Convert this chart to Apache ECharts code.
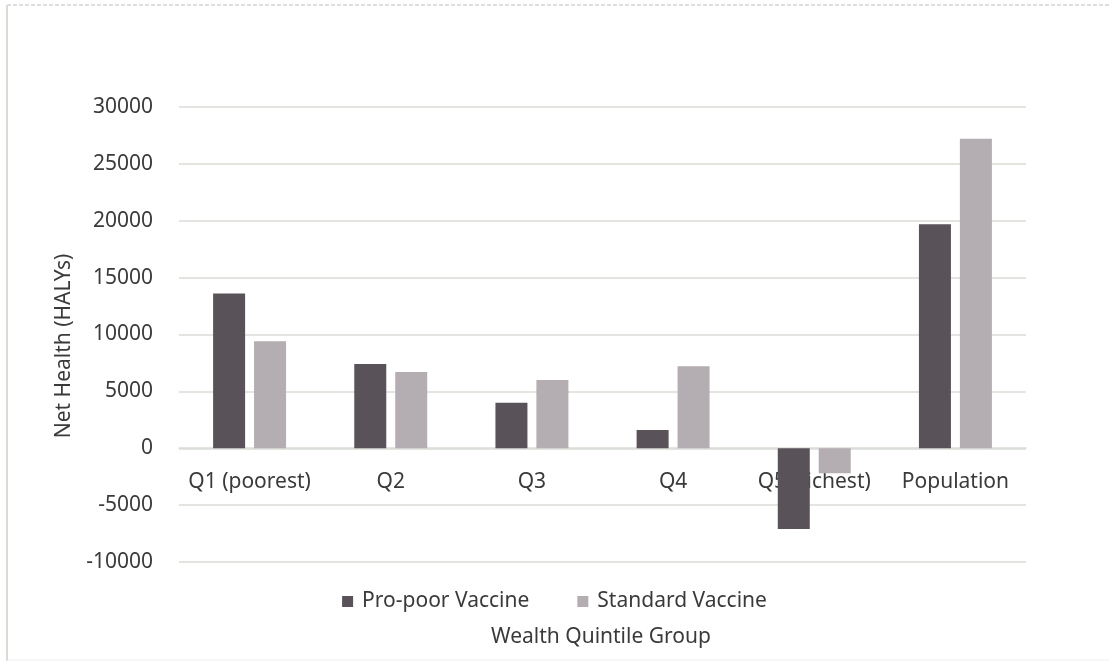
<!DOCTYPE html>
<html>
<head>
<meta charset="utf-8">
<script src="https://cdn.jsdelivr.net/npm/echarts@6/dist/echarts.min.js"></script>
<style>
html,body{margin:0;padding:0;background:#fff;}
#chart{width:1109px;height:661px;}
</style>
</head>
<body>
<div id="chart"></div>
<script>
const categories = ['Q1 (poorest)', 'Q2', 'Q3', 'Q4', 'Q5 (richest)', 'Population'];
const proPoor = [13600, 7400, 4000, 1600, -7100, 19700];
const standard = [9400, 6700, 6000, 7200, -2200, 27200];
const seriesNames = ['Pro-poor Vaccine', 'Standard Vaccine'];
const yTitle = 'Net Health (HALYs)';
const xTitle = 'Wealth Quintile Group';

const FONT = 'Noto Sans';
const FS = 21;
const TXT = '#3a3a3a';
const GRID = '#d9ddd6';

const chart = echarts.init(document.getElementById('chart'));
chart.setOption({
  backgroundColor: '#ffffff',
  animation: false,
  grid: { left: 179, right: 83, top: 107, bottom: 99, containLabel: false },
  legend: {
    data: seriesNames,
    top: 586,
    left: 'center',
    itemWidth: 11,
    itemHeight: 11,
    itemGap: 48,
    icon: 'rect',
    textStyle: { fontFamily: FONT, fontSize: FS, color: TXT, padding: [0, 0, 0, 4] }
  },
  xAxis: {
    type: 'category',
    data: categories,
    offset: -114,
    axisLine: { onZero: false, lineStyle: { color: GRID, width: 1.5 } },
    axisTick: { show: false },
    axisLabel: { margin: 24, fontFamily: FONT, fontSize: FS, color: TXT, interval: 0 },
    z: 0
  },
  yAxis: {
    type: 'value',
    min: -10000,
    max: 30000,
    interval: 5000,
    axisLine: { show: false },
    axisTick: { show: false },
    axisLabel: { margin: 26, fontFamily: FONT, fontSize: FS, color: TXT, formatter: v => String(v) },
    splitLine: { lineStyle: { color: GRID, width: 1.5 } }
  },
  series: [
    {
      name: seriesNames[0],
      type: 'bar',
      data: proPoor,
      barWidth: 32,
      barGap: '28%',
      itemStyle: { color: '#5a5259' }
    },
    {
      name: seriesNames[1],
      type: 'bar',
      data: standard,
      barWidth: 32,
      itemStyle: { color: '#b4adb2' }
    }
  ],
  graphic: [
    {
      type: 'text',
      x: 64, y: 346,
      rotation: Math.PI / 2,
      style: { text: yTitle, fontFamily: FONT, fontSize: FS, fill: TXT, align: 'center', verticalAlign: 'middle' }
    },
    {
      type: 'text',
      x: 601, y: 637,
      style: { text: xTitle, fontFamily: FONT, fontSize: FS, fill: TXT, align: 'center', verticalAlign: 'middle' }
    },
    {
      type: 'line',
      shape: { x1: 7, y1: 5, x2: 1109, y2: 5 },
      style: { stroke: '#d4d4d4', lineWidth: 1.5, lineDash: [4, 2] }
    },
    {
      type: 'line',
      shape: { x1: 7, y1: 5, x2: 7, y2: 661 },
      style: { stroke: '#d5ddd5', lineWidth: 2 }
    },
    {
      type: 'line',
      shape: { x1: 7, y1: 660, x2: 1109, y2: 660 },
      style: { stroke: '#eeeeee', lineWidth: 1 }
    }
  ]
});
</script>
</body>
</html>
